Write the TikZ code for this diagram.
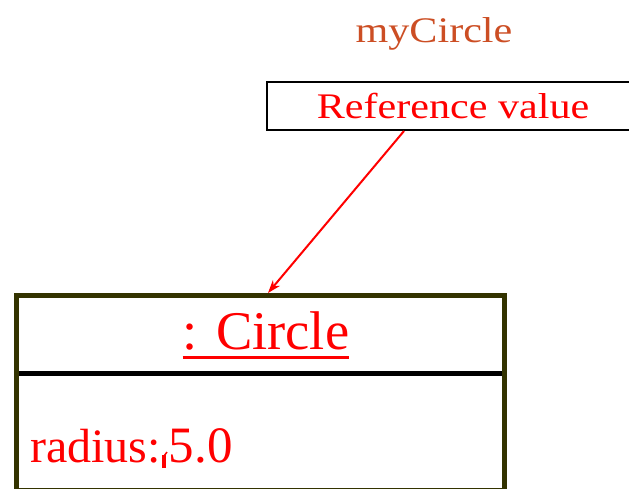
\documentclass[tikz,border=0pt]{standalone}
\usepackage{fontspec}
\setmainfont{Liberation Serif}
\newfontfamily\plainserif{Liberation Serif}
\newfontfamily\wideserif[FakeStretch=1.17]{Liberation Serif}
\usetikzlibrary{arrows.meta}
\definecolor{olivedark}{RGB}{51,51,0}
\definecolor{rust}{RGB}{204,78,36}
\tikzset{
  refbox/.style={draw=black, line width=2pt, inner sep=0pt,
    minimum width=372pt, minimum height=48pt,
    text=red, font=\wideserif\fontsize{36}{40}\selectfont},
  objbox/.style={draw=olivedark, line width=5pt, inner sep=0pt,
    minimum width=488pt, minimum height=194.5pt},
  objtitle/.style={anchor=base, inner sep=0pt, text=red,
    font=\plainserif\fontsize{54.5}{60}\selectfont},
  attrtext/.style={anchor=base west, inner sep=0pt, text=red,
    font=\plainserif\fontsize{48}{54}\selectfont},
  reflink/.style={draw=red, line width=2pt,
    -{Stealth[length=13pt,width=9pt,inset=4pt]}},
}
\begin{document}
\begin{tikzpicture}[x=1pt,y=-1pt]
\useasboundingbox (0,0) rectangle (629,488);
\clip (0,0) rectangle (629,488);

% variable name and its reference box
\node[anchor=base, inner sep=0pt, text=rust,
      font=\wideserif\fontsize{36}{40}\selectfont] (varname) at (434,42) {myCircle};
\node[refbox] (ref) at (453,106) {Reference value};

% object box with compartment divider
\draw[line width=5pt, black] (19,373.5) -- (502,373.5);
\node[objbox] (obj) at (260.5,392.75) {};

% object title, underlined
\node[objtitle] (title) at (266,349) {: Circle};
\coordinate (ul) at (0,357);
\draw[red, line width=3pt] (title.west |- ul) -- (title.east |- ul);

% attribute with caret mark
\node[attrtext] (attr) at (30,462) {radius:\hspace{8pt}{\fontsize{51}{56}\selectfont 5.0}};
\draw[red, line width=3.5pt] (164,468) -- (164,455);
\draw[red, line width=1.5pt] (164,456) -- (167,452);

% reference arrow
\coordinate (ax) at (404,0);
\coordinate (bx) at (268,0);
\draw[reflink] (ref.south -| ax) -- (obj.north -| bx);
\end{tikzpicture}
\end{document}
